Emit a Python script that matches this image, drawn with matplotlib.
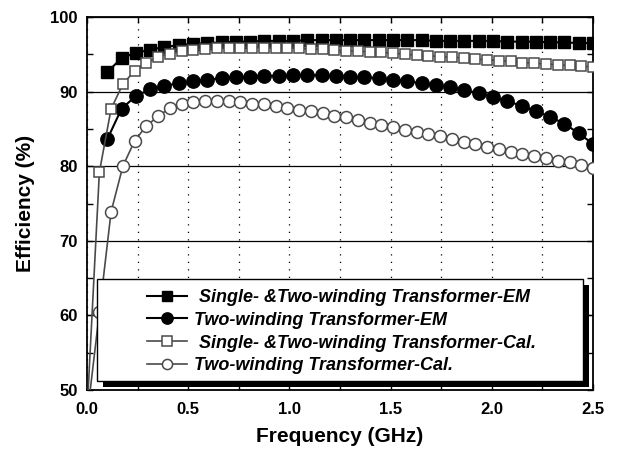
import numpy as np
import matplotlib
matplotlib.use("Agg")
import matplotlib.pyplot as plt
from matplotlib.patches import Rectangle
from matplotlib.ticker import MultipleLocator
import matplotlib.transforms as mtransforms

plt.rcParams['font.family'] = ['Liberation Sans', 'DejaVu Sans']

# Frequencies (GHz)
freq_em = np.round(np.linspace(0.1, 2.5, 35), 4)
freq_cal = np.round(np.linspace(0.003, 2.5, 44), 4)

# Efficiency (%)
eff_single_em = [92.6, 94.5, 95.2, 95.6, 96.0, 96.2, 96.4, 96.5, 96.6, 96.7,
                 96.7, 96.8, 96.8, 96.8, 96.9, 96.9, 96.9, 96.9, 96.9, 96.9,
                 96.9, 96.9, 96.9, 96.8, 96.8, 96.8, 96.8, 96.8, 96.7, 96.7,
                 96.7, 96.6, 96.6, 96.5, 96.5]
eff_two_em = [83.6, 87.7, 89.4, 90.3, 90.8, 91.1, 91.4, 91.6, 91.8, 91.9,
              92.0, 92.1, 92.1, 92.2, 92.2, 92.2, 92.1, 92.0, 91.9, 91.8,
              91.6, 91.4, 91.1, 90.9, 90.6, 90.2, 89.8, 89.3, 88.7, 88.1,
              87.4, 86.6, 85.7, 84.4, 83.0]
eff_single_cal = [48.5, 79.2, 87.7, 91.0, 92.8, 93.9, 94.6, 95.1, 95.4, 95.6,
                  95.7, 95.8, 95.85, 95.9, 95.9, 95.9, 95.85, 95.8, 95.8, 95.7,
                  95.65, 95.55, 95.5, 95.4, 95.35, 95.25, 95.15, 95.0, 94.9, 94.8,
                  94.7, 94.6, 94.5, 94.35, 94.25, 94.15, 94.05, 93.9, 93.8, 93.7,
                  93.6, 93.5, 93.4, 93.3]
eff_two_cal = [47.0, 60.4, 73.9, 80.0, 83.4, 85.4, 86.7, 87.8, 88.3, 88.6,
               88.8, 88.8, 88.7, 88.6, 88.4, 88.3, 88.1, 87.85, 87.6, 87.4,
               87.1, 86.75, 86.55, 86.25, 85.8, 85.5, 85.2, 84.9, 84.6, 84.3,
               84.0, 83.6, 83.3, 83.0, 82.6, 82.3, 81.9, 81.6, 81.4, 81.1,
               80.7, 80.5, 80.2, 79.8]

labels = [" Single- &Two-winding Transformer-EM",
          "Two-winding Transformer-EM",
          " Single- &Two-winding Transformer-Cal.",
          "Two-winding Transformer-Cal."]

xticks = [0.0, 0.5, 1.0, 1.5, 2.0, 2.5]
yticks = [50, 60, 70, 80, 90, 100]

fig = plt.figure(figsize=(6.23, 4.5), dpi=100)
ax = fig.add_axes([87/623, 1-390/450, (593-87)/623, (390-17)/450])

grey = '#4a4a4a'
h1, = ax.plot(freq_em, eff_single_em, '-s', color='black', lw=1.5, ms=8.3,
              mfc='black', mec='black', label=labels[0], zorder=3)
h2, = ax.plot(freq_em, eff_two_em, '-o', color='black', lw=1.5, ms=9.6,
              mfc='black', mec='black', label=labels[1], zorder=3)
h3, = ax.plot(freq_cal, eff_single_cal, '-s', color=grey, lw=1.2, ms=7.8,
              mfc='white', mec=grey, mew=1.1, label=labels[2], zorder=3)
h4, = ax.plot(freq_cal, eff_two_cal, '-o', color=grey, lw=1.2, ms=8.6,
              mfc='white', mec=grey, mew=1.1, label=labels[3], zorder=3)

ax.set_xlim(0, 2.5)
ax.set_ylim(50, 100)
ax.set_xticks(xticks)
ax.set_xticklabels([f"{v:.1f}" for v in xticks])
ax.set_yticks(yticks)
ax.xaxis.set_minor_locator(MultipleLocator(0.25))
ax.yaxis.set_minor_locator(MultipleLocator(5))
ax.tick_params(which='both', direction='in', top=True, right=True,
               length=4, width=1)
ax.tick_params(axis='x', which='major', pad=8.5, labelsize=12)
ax.tick_params(axis='y', which='major', pad=6.5, labelsize=12)
for lab in ax.get_xticklabels() + ax.get_yticklabels():
    lab.set_fontweight('bold')
for s in ax.spines.values():
    s.set_linewidth(1.3)

ax.yaxis.grid(True, which='major', color='black', lw=0.9, ls='-')
ax.xaxis.grid(True, which='both', color='black', lw=0.9, ls=(0, (1, 5)))
ax.set_axisbelow(True)

ax.set_xlabel("Frequency (GHz)", fontsize=15, fontweight='bold', labelpad=7)
ax.set_ylabel("Efficiency (%)", fontsize=15, fontweight='bold', labelpad=11)

# Legend frame with black shadow
x0, y0 = (97-87)/506, (390-381)/373
w, h = (583-97)/506, (381-279.3)/373
shadow_tr = ax.transAxes + mtransforms.ScaledTranslation(6/100, -6/100, fig.dpi_scale_trans)
ax.add_patch(Rectangle((x0, y0), w, h, transform=shadow_tr, fc='black',
                       ec='black', lw=0, zorder=4, clip_on=False))
ax.add_patch(Rectangle((x0, y0), w, h, transform=ax.transAxes, fc='white',
                       ec='black', lw=1.0, zorder=4, clip_on=False))

leg = ax.legend(handles=[h1, h2, h3, h4], loc='upper left',
                bbox_to_anchor=((147-87)/506, (390-289)/373),
                frameon=False, borderpad=0, borderaxespad=0,
                handlelength=2.2, handletextpad=0.4, labelspacing=0.32,
                markerscale=0.85,
                prop={'family': 'Liberation Sans', 'weight': 'bold',
                      'style': 'italic', 'size': 13})
leg.set_zorder(5)

fig.savefig("out.png", dpi=100)
